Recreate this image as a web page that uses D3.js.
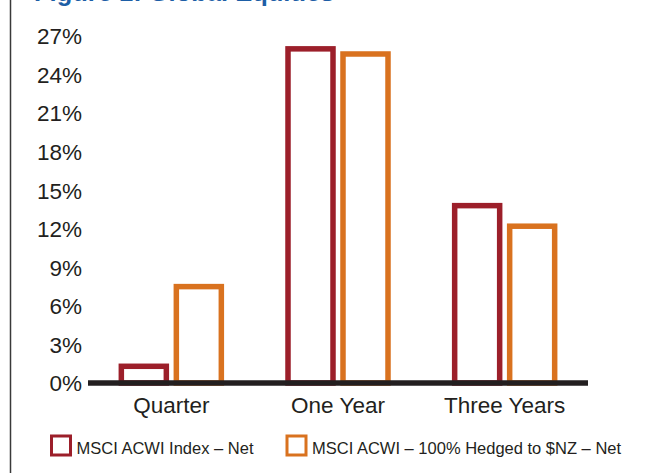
<!DOCTYPE html>
<html>
<head>
<meta charset="utf-8">
<script src="https://cdn.jsdelivr.net/npm/d3@7/dist/d3.min.js"></script>
<style>
  html, body { margin: 0; padding: 0; background: #fff; }
  svg { display: block; }
  text { font-family: "Liberation Sans", Arial, Helvetica, sans-serif; }
</style>
</head>
<body>
<svg id="chart" width="669" height="473"></svg>
<script>
// Periods along the x axis
const categories = ["Quarter", "One Year", "Three Years"];
// Series names (legend order)
const seriesNames = ["MSCI ACWI Index – Net", "MSCI ACWI – 100% Hedged to $NZ – Net"];
// Returns in percent, one value per period
const acwiNet = [1.3, 26.0, 13.8];
const acwiHedged = [7.5, 25.6, 12.2];
// Y axis tick values (percent)
const yTicks = [0, 3, 6, 9, 12, 15, 18, 21, 24, 27];

const colors = ["#9c1f2a", "#d9721f"];
const ink = "#231f20";

const svg = d3.select("#chart");
const W = 669, H = 473;

// Frame line down the left edge
svg.append("line")
  .attr("x1", 10.5).attr("x2", 10.5)
  .attr("y1", 0).attr("y2", H)
  .attr("stroke", "#3a3a3a").attr("stroke-width", 1.5);

// Title, mostly above the top edge
svg.append("text")
  .attr("x", 34).attr("y", 1)
  .attr("fill", "#1d5ea6")
  .attr("font-size", 25.5).attr("font-weight", "bold")
  .text("Figure 1: Global Equities");

const plot = { left: 88, right: 588, top: 36, bottom: 383 };

const x0 = d3.scaleBand().domain(categories).range([plot.left, plot.right]).padding(0);
const x1 = d3.scaleBand().domain(seriesNames).range([-50, 50]).paddingInner(0.1818).paddingOuter(0);
const y = d3.scaleLinear().domain([0, 27]).range([plot.bottom, plot.top]);

// Y axis labels only (no axis line or ticks)
const yAxis = d3.axisLeft(y).tickValues(yTicks).tickFormat(d => d + "%").tickSize(0).tickPadding(6);
const gy = svg.append("g").attr("transform", `translate(${plot.left},0)`).call(yAxis);
gy.select(".domain").remove();
gy.selectAll("text")
  .attr("font-size", 22.5).attr("fill", ink)
  .style("font-family", "'Liberation Sans', Arial, sans-serif")
  .attr("dy", "0.35em");

// Bars: outlined, white fill
const series = [acwiNet, acwiHedged];
const rows = [];
series.forEach((vals, si) => {
  vals.forEach((v, ci) => rows.push({ cat: categories[ci], name: seriesNames[si], value: v, si }));
});

svg.append("g").selectAll("rect")
  .data(rows)
  .join("rect")
  .attr("x", d => x0(d.cat) + x0.bandwidth() / 2 + x1(d.name))
  .attr("width", x1.bandwidth())
  .attr("y", d => y(d.value))
  .attr("height", d => y(0) - y(d.value))
  .attr("fill", "#fff")
  .attr("stroke", d => colors[d.si])
  .attr("stroke-width", 5.5);

// Baseline at 0%
svg.append("line")
  .attr("x1", plot.left).attr("x2", plot.right)
  .attr("y1", y(0)).attr("y2", y(0))
  .attr("stroke", ink).attr("stroke-width", 5.5);

// Category labels
const xAxis = d3.axisBottom(x0).tickSize(0).tickPadding(14);
const gx = svg.append("g").attr("transform", `translate(0,${y(0)})`).call(xAxis);
gx.select(".domain").remove();
gx.selectAll("text")
  .attr("font-size", 22.5).attr("fill", ink)
  .style("font-family", "'Liberation Sans', Arial, sans-serif");

// Legend
const legendX = [51.5, 287];
const legend = svg.append("g");
seriesNames.forEach((name, i) => {
  const g = legend.append("g").attr("transform", `translate(${legendX[i]},436)`);
  g.append("rect")
    .attr("width", 19).attr("height", 19)
    .attr("fill", "#fff")
    .attr("stroke", colors[i]).attr("stroke-width", 3);
  g.append("text")
    .attr("x", 25).attr("y", 18)
    .attr("font-size", 16.5).attr("fill", ink)
    .text(name);
});
</script>
</body>
</html>
